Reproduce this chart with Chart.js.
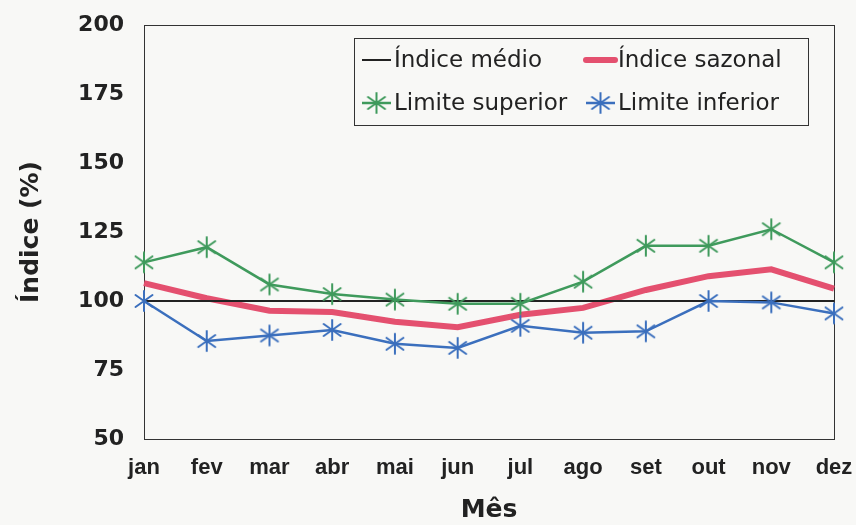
<!DOCTYPE html>
<html>
<head>
<meta charset="utf-8">
<script src="https://cdn.jsdelivr.net/npm/chart.js@4.4.1/dist/chart.umd.min.js"></script>
<style>
  html, body { margin: 0; padding: 0; background: #f8f8f6; }
  canvas { display: block; }
</style>
</head>
<body>
<canvas id="chart" width="856" height="525"></canvas>
<script>
const months = ['jan', 'fev', 'mar', 'abr', 'mai', 'jun', 'jul', 'ago', 'set', 'out', 'nov', 'dez'];
const indiceMedio = [100, 100, 100, 100, 100, 100, 100, 100, 100, 100, 100, 100];
const indiceSazonal = [106.5, 101, 96.5, 96, 92.5, 90.5, 95, 97.5, 104, 109, 111.5, 104.5];
const limiteSuperior = [114, 119.5, 106, 102.5, 100.5, 99, 99, 107, 120, 120, 126, 114];
const limiteInferior = [100, 85.5, 87.5, 89.5, 84.5, 83, 91, 88.5, 89, 100, 99.5, 95.5];
const yTicks = [50, 75, 100, 125, 150, 175, 200];

const INK = '#222222';
const GREEN = '#3f9a5c';
const BLUE = '#3b6fbd';
const RED = '#e4506f';
const FONT = '"Liberation Sans", Arial, sans-serif';
const WIDE = '"DejaVu Sans", sans-serif';

// Excel-like star marker (asterisk)
function starMarker(color) {
    const size = 24;
    const c = document.createElement('canvas');
    c.width = size; c.height = size;
    const g = c.getContext('2d');
    const m = size / 2, r = 10, dx = 8.5, dy = 6;
    g.strokeStyle = color;
    g.lineWidth = 2;
    g.lineCap = 'round';
    g.beginPath();
    g.moveTo(m, m - r); g.lineTo(m, m + r);
    g.moveTo(m - dx, m - dy); g.lineTo(m + dx, m + dy);
    g.moveTo(m + dx, m - dy); g.lineTo(m - dx, m + dy);
    g.stroke();
    return c;
}
const greenStar = starMarker(GREEN);
const blueStar = starMarker(BLUE);

// Box round the plot area
const plotBorder = {
    id: 'plotBorder',
    beforeDatasetsDraw(chart) {
        const { ctx, chartArea: a } = chart;
        ctx.save();
        ctx.strokeStyle = '#333';
        ctx.lineWidth = 1;
        ctx.strokeRect(a.left + 0.5, a.top + 0.5, a.right - a.left, a.bottom - a.top);
        ctx.restore();
    }
};

// Legend box inside the plot, two columns
const boxLegend = {
    id: 'boxLegend',
    afterDraw(chart) {
        const { ctx, chartArea: a } = chart;
        const bx = a.left + 210, by = a.top + 13, bw = 454, bh = 87;
        ctx.save();
        ctx.fillStyle = '#f8f8f6';
        ctx.fillRect(bx, by, bw, bh);
        ctx.strokeStyle = '#333';
        ctx.lineWidth = 1;
        ctx.strokeRect(bx + 0.5, by + 0.5, bw, bh);

        const items = [
            { text: 'Índice médio', color: INK, width: 2, marker: null, col: 0, row: 0 },
            { text: 'Índice sazonal', color: RED, width: 6, marker: null, col: 1, row: 0 },
            { text: 'Limite superior', color: GREEN, width: 2.5, marker: greenStar, col: 0, row: 1 },
            { text: 'Limite inferior', color: BLUE, width: 2.5, marker: blueStar, col: 1, row: 1 }
        ];
        ctx.font = '23px ' + WIDE;
        ctx.textBaseline = 'middle';
        items.forEach(it => {
            const x0 = bx + 8 + it.col * 224;
            const y = by + 22 + it.row * 43;
            ctx.strokeStyle = it.color;
            ctx.lineWidth = it.width;
            ctx.lineCap = it.width > 4 ? 'round' : 'butt';
            ctx.beginPath();
            ctx.moveTo(x0, y);
            ctx.lineTo(x0 + 29, y);
            ctx.stroke();
            if (it.marker) {
                ctx.drawImage(it.marker, x0 + 14.5 - it.marker.width / 2, y - it.marker.height / 2);
            }
            ctx.fillStyle = INK;
            ctx.fillText(it.text, x0 + 32, y + 1);
        });
        ctx.restore();
    }
};

new Chart(document.getElementById('chart'), {
    type: 'line',
    data: {
        labels: months,
        datasets: [
            {
                label: 'Índice médio',
                data: indiceMedio,
                borderColor: INK,
                borderWidth: 2,
                pointRadius: 0,
                clip: false,
                order: 2
            },
            {
                label: 'Índice sazonal',
                data: indiceSazonal,
                borderColor: RED,
                borderWidth: 6,
                pointRadius: 0,
                clip: false,
                order: 3
            },
            {
                label: 'Limite superior',
                data: limiteSuperior,
                borderColor: GREEN,
                borderWidth: 2.5,
                pointStyle: greenStar,
                clip: false,
                order: 0
            },
            {
                label: 'Limite inferior',
                data: limiteInferior,
                borderColor: BLUE,
                borderWidth: 2.5,
                pointStyle: blueStar,
                clip: false,
                order: 1
            }
        ]
    },
    options: {
        responsive: false,
        animation: false,
        devicePixelRatio: 1,
        layout: { padding: { top: 25, right: 22, left: 0, bottom: 0 } },
        plugins: {
            legend: { display: false },
            tooltip: { enabled: false }
        },
        scales: {
            x: {
                offset: false,
                grid: { display: false, drawTicks: false },
                border: { display: true, color: '#333', width: 1 },
                ticks: {
                    color: INK,
                    font: { family: FONT, size: 22, weight: 'bold' },
                    padding: 16,
                    maxRotation: 0,
                    autoSkip: false
                },
                title: {
                    display: true,
                    text: 'Mês',
                    color: INK,
                    font: { family: WIDE, size: 25, weight: 'bold' },
                    padding: { top: 0, bottom: 0 }
                },
                afterFit(scale) {
                    scale.height = 86;
                    scale.paddingLeft = 0;
                    scale.paddingRight = 0;
                }
            },
            y: {
                min: 50,
                max: 200,
                afterBuildTicks(scale) { scale.ticks = yTicks.map(v => ({ value: v })); },
                grid: { display: false, drawTicks: false },
                border: { display: true, color: '#333', width: 1 },
                ticks: {
                    color: INK,
                    font: { family: WIDE, size: 22, weight: 'bold' },
                    padding: 20
                },
                title: {
                    display: true,
                    text: 'Índice (%)',
                    color: INK,
                    font: { family: WIDE, size: 25, weight: 'bold' },
                    padding: { top: 16, bottom: 0 }
                },
                afterFit(scale) {
                    scale.width = 144;
                    scale.paddingTop = 0;
                    scale.paddingBottom = 0;
                }
            }
        }
    },
    plugins: [plotBorder, boxLegend]
});
</script>
</body>
</html>
